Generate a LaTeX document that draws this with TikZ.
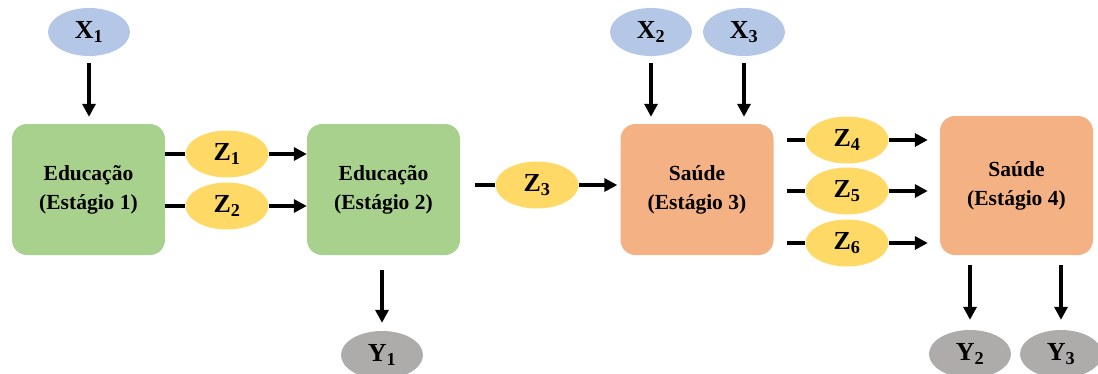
\documentclass[tikz,border=0pt]{standalone}
\usepackage{fontspec}
\setmainfont{Liberation Serif}
\usetikzlibrary{arrows.meta,shapes.geometric}
\definecolor{cgreen}{HTML}{A9D18E}
\definecolor{corange}{HTML}{F4B183}
\definecolor{cblue}{HTML}{B4C7E7}
\definecolor{cyellow}{HTML}{FFD966}
\definecolor{cgray}{HTML}{AEABAB}
\tikzset{
  stagebox/.style={rectangle, rounded corners=15pt, minimum width=153pt, minimum height=131pt, inner sep=0pt, align=center, font=\bfseries\fontsize{21.5}{29}\selectfont},
  var/.style={ellipse, minimum width=82pt, minimum height=48pt, inner sep=0pt, font=\bfseries\fontsize{26}{26}\selectfont},
  conn/.style={line width=3.4pt, black},
  arr/.style={line width=3.4pt, black, -{Triangle[length=13pt,width=13pt]}},
}
\begin{document}
\begin{tikzpicture}[x=1pt,y=-1pt]
\useasboundingbox (0,0) rectangle (1098,373);
% boxes
\node[stagebox, fill=cgreen] (E1) at (88.5,189.5) {Educação\\(Estágio 1)};
\node[stagebox, fill=cgreen] (E2) at (383.5,189.5) {Educação\\(Estágio 2)};
\node[stagebox, fill=corange] (S3) at (697,189.5) {Saúde\\(Estágio 3)};
\node[stagebox, fill=corange, minimum height=139pt] (S4) at (1016.5,185.5) {Saúde\\(Estágio 4)};
% inputs
\node[var, fill=cblue] (X1) at (89,32) {X\textsubscript{1}};
\node[var, fill=cblue] (X2) at (651,32) {X\textsubscript{2}};
\node[var, fill=cblue] (X3) at (744,32) {X\textsubscript{3}};
% intermediates
\node[var, fill=cyellow, minimum width=83pt, minimum height=47pt] (Z1) at (227,154) {Z\textsubscript{1}};
\node[var, fill=cyellow, minimum width=83pt, minimum height=47pt] (Z2) at (227,206) {Z\textsubscript{2}};
\node[var, fill=cyellow, minimum width=83pt, minimum height=47pt] (Z3) at (537,185) {Z\textsubscript{3}};
\node[var, fill=cyellow, minimum width=83pt, minimum height=47pt] (Z4) at (847,140) {Z\textsubscript{4}};
\node[var, fill=cyellow, minimum width=83pt, minimum height=47pt] (Z5) at (847,191) {Z\textsubscript{5}};
\node[var, fill=cyellow, minimum width=83pt, minimum height=47pt] (Z6) at (847,243) {Z\textsubscript{6}};
% outputs
\node[var, fill=cgray] (Y1) at (382,355) {Y\textsubscript{1}};
\node[var, fill=cgray] (Y2) at (970,354) {Y\textsubscript{2}};
\node[var, fill=cgray] (Y3) at (1061,354) {Y\textsubscript{3}};
% input arrows
\draw[arr, shorten <=7pt, shorten >=7pt] (X1.south) -- (X1.south |- E1.north);
\draw[arr, shorten <=7pt, shorten >=7pt] (X2.south) -- (X2.south |- S3.north);
\draw[arr, shorten <=7pt, shorten >=7pt] (X3.south) -- (X3.south |- S3.north);
% stage 1 -> 2
\draw[conn] (E1.east |- Z1.west) -- (Z1.west);
\draw[conn] (E1.east |- Z2.west) -- (Z2.west);
\draw[arr] (Z1.east) -- (Z1.east -| E2.west);
\draw[arr] (Z2.east) -- (Z2.east -| E2.west);
% stage 2 -> 3
\draw[conn, shorten <=15pt] (E2.east |- Z3.west) -- (Z3.west);
\draw[arr, shorten >=3pt] (Z3.east) -- (Z3.east -| S3.west);
% stage 3 -> 4
\draw[conn, shorten <=13pt] (S3.east |- Z4.west) -- (Z4.west);
\draw[conn, shorten <=13pt] (S3.east |- Z5.west) -- (Z5.west);
\draw[conn, shorten <=13pt] (S3.east |- Z6.west) -- (Z6.west);
\draw[arr, shorten >=12pt] (Z4.east) -- (Z4.east -| S4.west);
\draw[arr, shorten >=12pt] (Z5.east) -- (Z5.east -| S4.west);
\draw[arr, shorten >=12pt] (Z6.east) -- (Z6.east -| S4.west);
% output arrows
\draw[arr, shorten <=15pt, shorten >=8pt] (Y1.north |- E2.south) -- (Y1.north);
\draw[arr, shorten <=10pt, shorten >=10pt] (Y2.north |- S4.south) -- (Y2.north);
\draw[arr, shorten <=10pt, shorten >=10pt] (Y3.north |- S4.south) -- (Y3.north);
\end{tikzpicture}
\end{document}
